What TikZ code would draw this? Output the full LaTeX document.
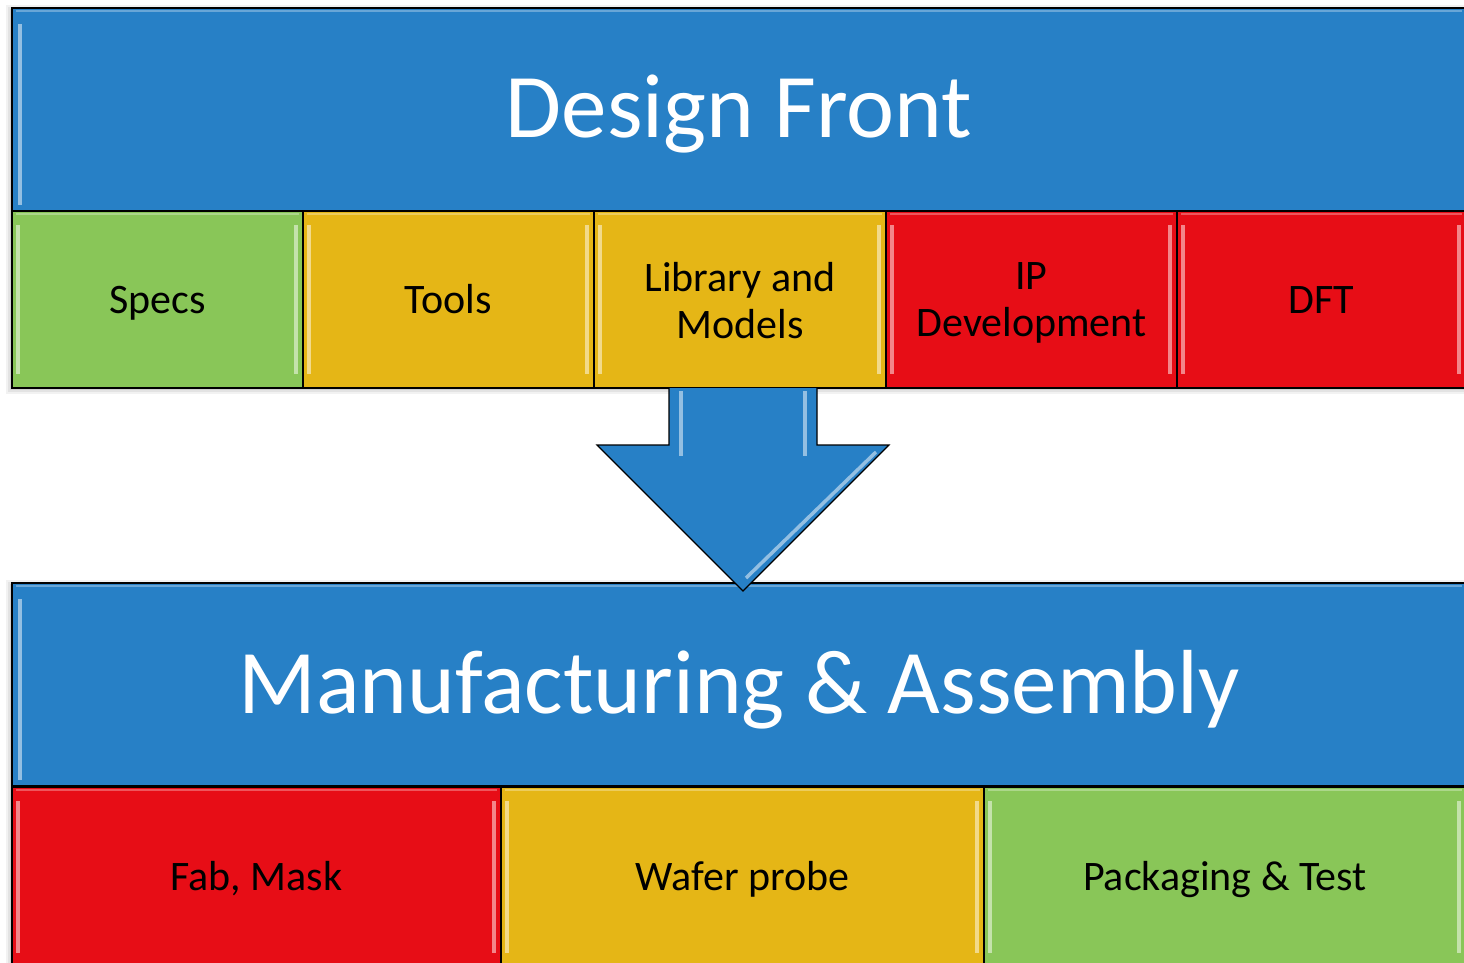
\documentclass[tikz,border=0pt]{standalone}
\usepackage{fontspec}
\setmainfont{Carlito}
\definecolor{bandblue}{RGB}{39,128,198}
\definecolor{tilegreen}{RGB}{137,198,88}
\definecolor{tileyellow}{RGB}{229,182,22}
\definecolor{tilered}{RGB}{231,13,22}
\begin{document}
\begin{tikzpicture}[x=1pt,y=-1pt,
  box/.style={draw=black, line width=1.3pt, anchor=north west, inner sep=0pt, outer sep=0pt, align=center},
  band/.style={box, fill=bandblue, text=white, minimum width=1454pt, minimum height=203pt, font=\fontsize{91}{100}\selectfont},
  tile/.style={box, text=black, font=\fontsize{42}{47}\selectfont},
  oneline/.style={text height=36pt, text depth=9pt},
  toptile/.style={tile, minimum height=177pt},
  bottile/.style={tile, minimum height=180pt},
  hl/.style={white, line width=3.5pt, opacity=0.5, line cap=butt},
  hlsoft/.style={white, line width=2.5pt, opacity=0.3}
]
\clip (0,0) rectangle (1464,962);
\fill[white] (0,0) rectangle (1464,962);
% soft shadows
\foreach \o/\a in {6/0.05,4/0.06,2/0.08}{
  \fill[black, opacity=\a] (12-\o,8-\o+3) rectangle (1470,388+\o);
  \fill[black, opacity=\a] (12-\o,583-\o+3) rectangle (1470,970);
}
% top band
\node[band, text height=70pt, text depth=15pt] (design) at (12,8) {Design Front};
\node[toptile, oneline, fill=tilegreen, minimum width=291pt] (specs) at (12,211) {Specs};
\node[toptile, oneline, fill=tileyellow, minimum width=291pt] (tools) at (303,211) {Tools};
\node[toptile, fill=tileyellow, minimum width=292pt] (lib) at (594,211) {\rule{0pt}{31pt}Library and\\Models};
\node[toptile, fill=tilered, minimum width=291pt] (ip) at (886,211) {\rule{0pt}{34pt}IP\\Development};
\node[toptile, oneline, fill=tilered, minimum width=289pt] (dft) at (1177,211) {DFT};
% bottom band
\node[band, text height=73pt, text depth=15pt] (mfg) at (12,583) {Manufacturing \& Assembly};
\node[bottile, oneline, fill=tilered, minimum width=489pt] (fab) at (12,787) {Fab, Mask};
\node[bottile, oneline, fill=tileyellow, minimum width=483pt] (wafer) at (501,787) {Wafer probe};
\node[bottile, oneline, fill=tilegreen, minimum width=482pt] (pack) at (984,787) {Packaging \& Test};
% bevel highlights
\foreach \n in {design,mfg}{
  \draw[hl] ([xshift=8pt,yshift=-16pt]\n.north west) -- ([xshift=8pt,yshift=6pt]\n.south west);
  \draw[hlsoft] ([xshift=4pt,yshift=-3pt]\n.north west) -- ([xshift=-4pt,yshift=-3pt]\n.north east);
}
\foreach \n in {specs,tools,lib,ip,dft,fab,wafer,pack}{
  \draw[hl] ([xshift=6pt,yshift=-14pt]\n.north west) -- ([xshift=6pt,yshift=14pt]\n.south west);
  \draw[hl] ([xshift=-7pt,yshift=-14pt]\n.north east) -- ([xshift=-7pt,yshift=14pt]\n.south east);
  \draw[hlsoft] ([xshift=4pt,yshift=-3pt]\n.north west) -- ([xshift=-4pt,yshift=-3pt]\n.north east);
}
% arrow from design tiles to manufacturing band
\coordinate (ashaftL) at ([xshift=-71pt]lib.south);
\coordinate (ashaftR) at ([xshift=77pt]lib.south);
\coordinate (atip) at (743,591);
\fill[bandblue] (ashaftL) -- (669,445) -- (597,445) -- (atip) -- (889,445) -- (817,445) -- (ashaftR) -- cycle;
\draw[hl] (681,391) -- (681,456);
\draw[hl] (805,391) -- (805,456);
\draw[hl] (876,452) -- (746,578);
\draw[black, line width=1.2pt, line join=miter] (ashaftL) -- (669,445) -- (597,445) -- (atip) -- (889,445) -- (817,445) -- (ashaftR);
\end{tikzpicture}
\end{document}
